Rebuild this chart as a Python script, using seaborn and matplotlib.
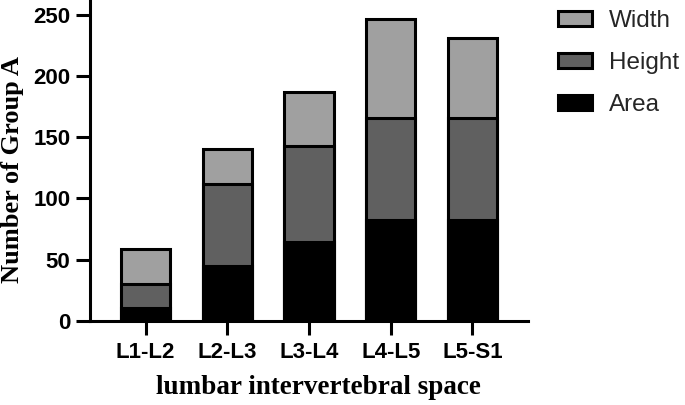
import matplotlib
matplotlib.use("Agg")
import matplotlib.pyplot as plt
import seaborn as sns
import pandas as pd
import numpy as np
from matplotlib.patches import Patch

# ---- data ----
categories = ["L1-L2", "L2-L3", "L3-L4", "L4-L5", "L5-S1"]
area = [10, 45, 64, 82, 82]
height = [20, 67, 79, 84, 84]
width = [29, 28, 44, 81, 65]
series_names = ["Width", "Height", "Area"]
colors = {"Width": "#a0a0a0", "Height": "#606060", "Area": "#000000"}

sns.set_theme(style="white")
plt.rcParams["font.family"] = ["Liberation Sans", "DejaVu Sans"]

df = pd.DataFrame({"segment": categories, "Area": area, "Height": height, "Width": width})
df["cum_area"] = df["Area"]
df["cum_height"] = df["Area"] + df["Height"]
df["cum_width"] = df["cum_height"] + df["Width"]

fig = plt.figure(figsize=(6.85, 4.05), dpi=100)
ax = fig.add_axes([90 / 685, 84.3 / 405, (528.3 - 90) / 685, 320.4 / 405])

lw = 2.2
for col, name in [("cum_width", "Width"), ("cum_height", "Height"), ("cum_area", "Area")]:
    sns.barplot(data=df, x="segment", y=col, order=categories, color=colors[name],
                saturation=1, width=0.6, edgecolor="black", linewidth=lw, ax=ax)

ax.set_xlim(-0.679, 4.683)
ax.set_ylim(0, 262)
ax.set_yticks([0, 50, 100, 150, 200, 250])

for s in ["top", "right"]:
    ax.spines[s].set_visible(False)
for s in ["left", "bottom"]:
    ax.spines[s].set_linewidth(lw)
    ax.spines[s].set_color("black")

ax.tick_params(axis="both", which="major", length=10, width=lw, color="black",
               labelsize=16, labelcolor="black", direction="out")
ax.tick_params(axis="y", pad=4.0, left=True)
ax.tick_params(axis="x", pad=5.0, bottom=True)
for lab in ax.get_xticklabels() + ax.get_yticklabels():
    lab.set_fontweight("bold")
    lab.set_family(["Liberation Sans", "DejaVu Sans"])

ax.set_xlabel("lumbar intervertebral space", fontsize=19.5, fontweight="bold",
              family=["Liberation Serif", "DejaVu Serif"], color="black")
ax.set_ylabel("Number of Group A", fontsize=19, fontweight="bold",
              family=["Liberation Serif", "DejaVu Serif"], color="black")
ax.xaxis.set_label_coords((318.5 - 90) / 438.3, -0.168)
ax.yaxis.set_label_coords(-0.151, 0.473)

handles = [Patch(facecolor=colors[n], edgecolor="black", linewidth=lw, label=n) for n in series_names]
fig.legend(handles=handles, loc="upper left", bbox_to_anchor=(558.3 / 685, 0.975),
           frameon=False, fontsize=17.5, handlelength=1.4, handleheight=0.58,
           handletextpad=0.7, labelspacing=0.82, borderpad=0, borderaxespad=0)

fig.savefig("out.png", dpi=100)
